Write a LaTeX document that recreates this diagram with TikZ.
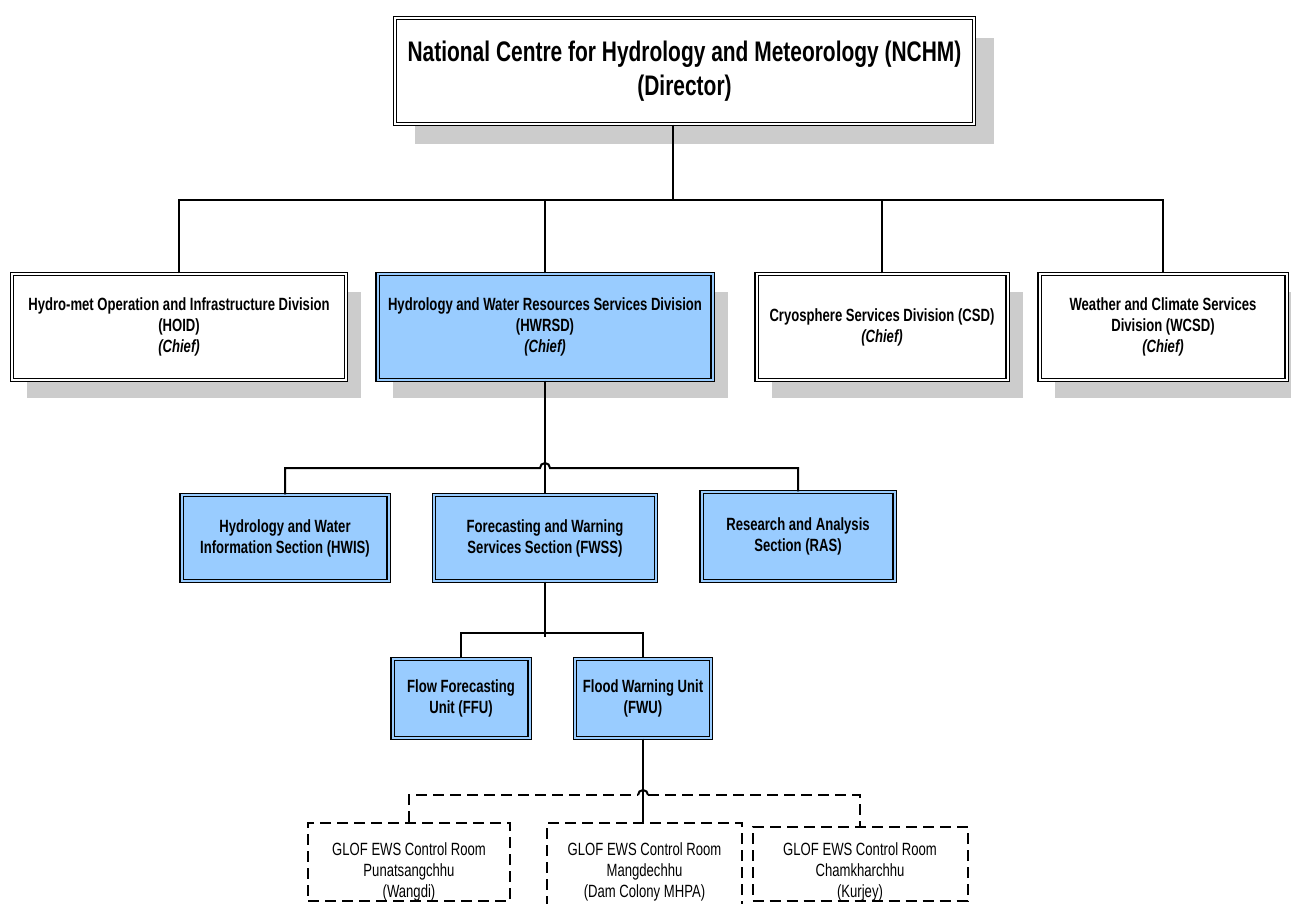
\documentclass[tikz,border=0pt]{standalone}
\usepackage{fontspec}
\setmainfont{Liberation Sans}[FakeStretch=0.74]
\usetikzlibrary{shadows,calc}
\definecolor{boxblue}{HTML}{99CCFF}
\definecolor{shadowgray}{HTML}{CCCCCC}
\tikzset{
  dbl/.style={draw=black, line width=1.2pt, double distance=2pt},
  orgbox/.style={dbl, inner sep=0pt, align=center, font=\fontsize{17.7}{21}\selectfont\bfseries},
  whitebox/.style={orgbox, double=white, fill=white},
  bluebox/.style={orgbox, double=boxblue, fill=boxblue},
  shad/.style={drop shadow={shadow xshift=15pt, shadow yshift=-18pt, fill=shadowgray, opacity=1}},
  bigshad/.style={drop shadow={shadow xshift=20pt, shadow yshift=-20pt, fill=shadowgray, opacity=1}},
  conn/.style={line width=2pt},
  dconn/.style={line width=2pt, dash pattern=on 11pt off 6pt},
  roombox/.style={draw, dconn, inner sep=0pt},
  roomtext/.style={align=center, inner sep=0pt, font=\fontsize{17.7}{21}\selectfont},
}
\begin{document}
\begin{tikzpicture}[x=1pt, y=-1pt]
\useasboundingbox (0,0) rectangle (1291,904);
% top
\node[whitebox, bigshad, minimum width=579pt, minimum height=106pt, font=\fontsize{28.3}{34}\selectfont\bfseries] (nchm) at (684.5,71)
  {National Centre for Hydrology and Meteorology (NCHM)\\(Director)};
% divisions
\node[whitebox, shad, minimum width=334pt, minimum height=106pt] (hoid) at (179,327)
  {Hydro-met Operation and Infrastructure Division\\(HOID)\\\textit{(Chief)}};
\node[bluebox, shad, minimum width=335pt, minimum height=106pt] (hwrsd) at (545,327)
  {Hydrology and Water Resources Services Division\\(HWRSD)\\\textit{(Chief)}};
\node[whitebox, shad, minimum width=251pt, minimum height=106pt] (csd) at (882,327)
  {Cryosphere Services Division (CSD)\\\textit{(Chief)}};
\node[whitebox, shad, minimum width=247pt, minimum height=106pt] (wcsd) at (1163,327)
  {Weather and Climate Services\\Division (WCSD)\\\textit{(Chief)}};
% sections
\node[bluebox, minimum width=207pt, minimum height=86pt] (hwis) at (285,538)
  {Hydrology and Water\\Information Section (HWIS)};
\node[bluebox, minimum width=222pt, minimum height=86pt] (fwss) at (545,538)
  {Forecasting and Warning\\Services Section (FWSS)};
\node[bluebox, minimum width=193pt, minimum height=89pt] (ras) at (798,536.5)
  {Research and Analysis\\Section (RAS)};
% units
\node[bluebox, minimum width=137pt, minimum height=79pt] (ffu) at (461,698.5)
  {Flow Forecasting\\Unit (FFU)};
\node[bluebox, minimum width=136pt, minimum height=79pt] (fwu) at (643,698.5)
  {Flood Warning Unit\\(FWU)};
% control rooms
\node[roombox, minimum width=202pt, minimum height=78pt] (pun) at (409,862) {};
\node[roombox, minimum width=195pt, minimum height=98pt] (mang) at (644.5,872) {};
\node[roombox, minimum width=215pt, minimum height=74pt] (cham) at (860,864) {};
\node[roomtext] (puntxt) at (409,872) {GLOF EWS Control Room\\Punatsangchhu\\(Wangdi)};
\node[roomtext] (mangtxt) at (644.5,872) {GLOF EWS Control Room\\Mangdechhu\\(Dam Colony MHPA)};
\node[roomtext] (chamtxt) at (860,872) {GLOF EWS Control Room\\Chamkharchhu\\(Kurjey)};
% connectors: director to divisions
\coordinate (b1) at (673,200);
\draw[conn] (nchm.south -| b1) -- (b1);
\draw[conn] (hoid.north) -- (hoid.north |- b1) -- (wcsd.north |- b1) -- (wcsd.north);
\draw[conn] (hwrsd.north) -- (hwrsd.north |- b1);
\draw[conn] (csd.north) -- (csd.north |- b1);
% HWRSD to sections
\coordinate (b2) at (545,468);
\draw[conn] (hwrsd.south) -- (fwss.north);
\draw[conn] (hwis.north) -- (hwis.north |- b2) -- ($(b2)+(-5,0)$) arc[start angle=180, end angle=0, radius=5pt] -- (ras.north |- b2) -- (ras.north);
% FWSS to units
\coordinate (b3) at (545,633);
\draw[conn] (fwss.south) -- ($(b3)+(0,4)$);
\draw[conn] (ffu.north) -- (ffu.north |- b3) -- (fwu.north |- b3) -- (fwu.north);
% FWU to control rooms
\coordinate (b4) at (643,795);
\draw[conn] (fwu.south) -- (fwu.south |- mang.north);
\draw[dconn] (pun.north) -- (pun.north |- b4) -- ($(b4)+(-5,0)$);
\draw[conn] ($(b4)+(-5,0)$) arc[start angle=180, end angle=0, radius=5pt];
\draw[dconn] ($(b4)+(5,0)$) -- (cham.north |- b4) -- (cham.north);
\end{tikzpicture}
\end{document}
